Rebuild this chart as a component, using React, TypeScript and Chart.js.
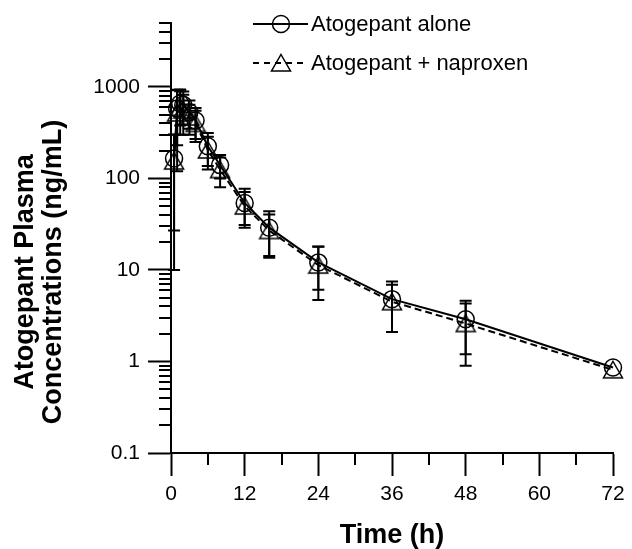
import React, { useEffect, useRef } from 'react';
import { Chart, registerables } from 'chart.js';
Chart.register(...registerables);

// ---- data ----
const times = [0.5, 1, 1.5, 2, 3, 4, 6, 8, 12, 16, 24, 36, 48, 72];
const aloneMean = [165, 580, 660, 640, 530, 430, 225, 140, 54, 29, 12.1, 4.8, 2.9, 0.86];
const aloneSD = [138, 350, 280, 250, 180, 160, 88, 40, 23, 14.8, 6.0, 2.7, 1.7, 0];
const naproxenMean = [155, 520, 600, 560, 470, 400, 205, 125, 50, 27, 11.3, 4.5, 2.6, 0.81];
const naproxenSD = [145, 400, 300, 260, 170, 150, 80, 45, 21, 13.4, 6.6, 2.4, 1.7, 0];

const seriesLabels = ['Atogepant alone', 'Atogepant + naproxen'];
const xMajorTicks = [0, 12, 24, 36, 48, 60, 72];
const xMinorTicks = [6, 18, 30, 42, 54, 66];
const yMajorTicks = [0.1, 1, 10, 100, 1000];
const yMajorLabels = ['0.1', '1', '10', '100', '1000'];
const yMinorMultipliers = [2, 3, 4, 5, 6, 7, 8, 9];
const yMax = 5000;
const xTitle = 'Time (h)';
const yTitle = ['Atogepant Plasma', 'Concentrations (ng/mL)'];

const FONT = "'Liberation Sans', Arial, Helvetica, sans-serif";

function buildYTicks(): number[] {
  const out: number[] = [];
  yMajorTicks.forEach((m) => {
    out.push(m);
    yMinorMultipliers.forEach((k) => {
      const v = +(m * k).toPrecision(3);
      if (v <= yMax) out.push(v);
    });
  });
  return out.sort((a, b) => a - b);
}

function isYMajor(v: number) {
  return yMajorTicks.some((m) => Math.abs(m - v) / m < 1e-6);
}

function makeTriangle(): HTMLCanvasElement {
  const c = document.createElement('canvas');
  c.width = 22;
  c.height = 20;
  const g = c.getContext('2d')!;
  g.strokeStyle = '#000';
  g.lineWidth = 1.5;
  g.beginPath();
  g.moveTo(11, 1.5);
  g.lineTo(20.5, 18);
  g.lineTo(1.5, 18);
  g.closePath();
  g.stroke();
  return c;
}

export default function App() {
  const ref = useRef<HTMLCanvasElement>(null);

  useEffect(() => {
    if (!ref.current) return;
    const tri = makeTriangle();

    const errorBars = {
      id: 'errorBars',
      afterDatasetsDraw(chart: any) {
        const { ctx, scales } = chart;
        const x = scales.x, y = scales.y;
        const sets = [
          [aloneMean, aloneSD],
          [naproxenMean, naproxenSD],
        ];
        ctx.save();
        ctx.strokeStyle = '#000';
        ctx.lineWidth = 2;
        ctx.setLineDash([]);
        sets.forEach(([m, s]) => {
          times.forEach((t, i) => {
            if (!s[i]) return;
            const px = x.getPixelForValue(t);
            const up = y.getPixelForValue(m[i] + s[i]);
            const lowVal = m[i] - s[i];
            const lo = y.getPixelForValue(lowVal > 0 ? lowVal : y.min);
            ctx.beginPath();
            ctx.moveTo(px, up);
            ctx.lineTo(px, lo);
            ctx.moveTo(px - 6, up);
            ctx.lineTo(px + 6, up);
            if (lowVal > 0) {
              ctx.moveTo(px - 6, lo);
              ctx.lineTo(px + 6, lo);
            }
            ctx.stroke();
          });
        });
        ctx.restore();
      },
    };

    const extras = {
      id: 'extras',
      afterDraw(chart: any) {
        const { ctx, scales, chartArea } = chart;
        const x = scales.x, y = scales.y;
        ctx.save();
        ctx.strokeStyle = '#000';
        ctx.lineWidth = 2;
        // minor ticks
        ctx.beginPath();
        y.ticks.forEach((t: any) => {
          if (isYMajor(t.value)) return;
          const py = Math.round(y.getPixelForValue(t.value));
          ctx.moveTo(chartArea.left - 12, py);
          ctx.lineTo(chartArea.left, py);
        });
        xMinorTicks.forEach((v) => {
          const px = Math.round(x.getPixelForValue(v));
          ctx.moveTo(px, chartArea.bottom);
          ctx.lineTo(px, chartArea.bottom + 12);
        });
        ctx.stroke();

        // y title
        ctx.fillStyle = '#000';
        ctx.font = `bold 27px ${FONT}`;
        ctx.textAlign = 'center';
        ctx.textBaseline = 'middle';
        ctx.save();
        ctx.translate(26, 272);
        ctx.rotate(-Math.PI / 2);
        ctx.fillText(yTitle[0], 0, 0);
        ctx.restore();
        ctx.save();
        ctx.translate(54, 272);
        ctx.rotate(-Math.PI / 2);
        ctx.fillText(yTitle[1], 0, 0);
        ctx.restore();

        // legend
        const rows = [
          { y: 24, dash: [] as number[], marker: 'circle', label: seriesLabels[0] },
          { y: 63, dash: [6, 5], marker: 'triangle', label: seriesLabels[1] },
        ];
        rows.forEach((r) => {
          ctx.lineWidth = 2;
          ctx.setLineDash(r.dash);
          ctx.beginPath();
          ctx.moveTo(253, r.y);
          ctx.lineTo(308, r.y);
          ctx.stroke();
          ctx.setLineDash([]);
          if (r.marker === 'circle') {
            ctx.lineWidth = 1.5;
            ctx.beginPath();
            ctx.arc(281, r.y, 8.5, 0, Math.PI * 2);
            ctx.stroke();
          } else {
            ctx.drawImage(tri, 281 - 11, r.y - 10);
          }
          ctx.font = `22px ${FONT}`;
          ctx.textAlign = 'left';
          ctx.textBaseline = 'middle';
          ctx.fillText(r.label, 311, r.y + 1);
        });
        ctx.restore();
      },
    };

    const chart = new Chart(ref.current, {
      type: 'line',
      data: {
        datasets: [
          {
            label: seriesLabels[0],
            data: times.map((t, i) => ({ x: t, y: aloneMean[i] })),
            borderColor: '#000',
            borderWidth: 2,
            backgroundColor: 'rgba(0,0,0,0)',
            pointStyle: 'circle',
            pointRadius: 8.5,
            pointBorderWidth: 1.5,
            pointBorderColor: '#000',
            pointBackgroundColor: 'rgba(0,0,0,0)',
            tension: 0,
            clip: false,
          },
          {
            label: seriesLabels[1],
            data: times.map((t, i) => ({ x: t, y: naproxenMean[i] })),
            borderColor: '#000',
            borderWidth: 2,
            borderDash: [7, 4],
            backgroundColor: 'rgba(0,0,0,0)',
            pointStyle: tri as any,
            pointRadius: 10,
            pointBorderColor: '#000',
            pointBackgroundColor: 'rgba(0,0,0,0)',
            tension: 0,
            clip: false,
          },
        ],
      },
      options: {
        responsive: false,
        devicePixelRatio: 1,
        animation: false,
        events: [],
        layout: { padding: { left: 0, right: 19, top: 23, bottom: 0 } },
        plugins: {
          legend: { display: false },
          tooltip: { enabled: false },
        },
        scales: {
          x: {
            type: 'linear',
            min: 0,
            max: 72,
            afterFit: (s: any) => {
              s.height = 96;
            },
            afterBuildTicks: (s: any) => {
              s.ticks = [...xMajorTicks, ...xMinorTicks].sort((a, b) => a - b).map((v) => ({ value: v }));
            },
            ticks: {
              autoSkip: false,
              maxRotation: 0,
              color: '#000',
              font: { family: FONT, size: 21 },
              padding: 6,
              callback: (v: any) => {
                const i = xMajorTicks.indexOf(Number(v));
                return i >= 0 ? String(xMajorTicks[i]) : '';
              },
            },
            grid: {
              display: true,
              drawOnChartArea: false,
              drawTicks: true,
              tickLength: 23,
              tickWidth: 2,
              color: '#000',
              tickColor: (c: any) => (xMajorTicks.includes(c.tick?.value) ? '#000' : 'rgba(0,0,0,0)'),
            },
            border: { display: true, color: '#000', width: 2 },
            title: {
              display: true,
              text: xTitle,
              color: '#000',
              font: { family: FONT, size: 27, weight: 'bold', lineHeight: 1 },
              padding: { top: 0, bottom: 0 },
            },
          },
          y: {
            type: 'logarithmic',
            min: 0.1,
            max: yMax,
            afterFit: (s: any) => {
              s.width = 171;
            },
            afterBuildTicks: (s: any) => {
              s.ticks = buildYTicks().map((v) => ({ value: v }));
            },
            ticks: {
              autoSkip: false,
              color: '#000',
              font: { family: FONT, size: 21 },
              padding: 8,
              callback: (v: any) => {
                const i = yMajorTicks.findIndex((m) => Math.abs(m - Number(v)) / m < 1e-6);
                return i >= 0 ? yMajorLabels[i] : '';
              },
            },
            grid: {
              display: true,
              drawOnChartArea: false,
              drawTicks: true,
              tickLength: 23,
              tickWidth: 2,
              color: '#000',
              tickColor: (c: any) => (c.tick && isYMajor(c.tick.value) ? '#000' : 'rgba(0,0,0,0)'),
            },
            border: { display: true, color: '#000', width: 2 },
          },
        },
      } as any,
      plugins: [errorBars, extras],
    });
    return () => chart.destroy();
  }, []);

  return (
    <div style={{ position: 'absolute', left: 0, top: 0, width: 632, height: 549, background: '#fff' }}>
      <canvas ref={ref} width={632} height={549} style={{ display: 'block' }} />
    </div>
  );
}
